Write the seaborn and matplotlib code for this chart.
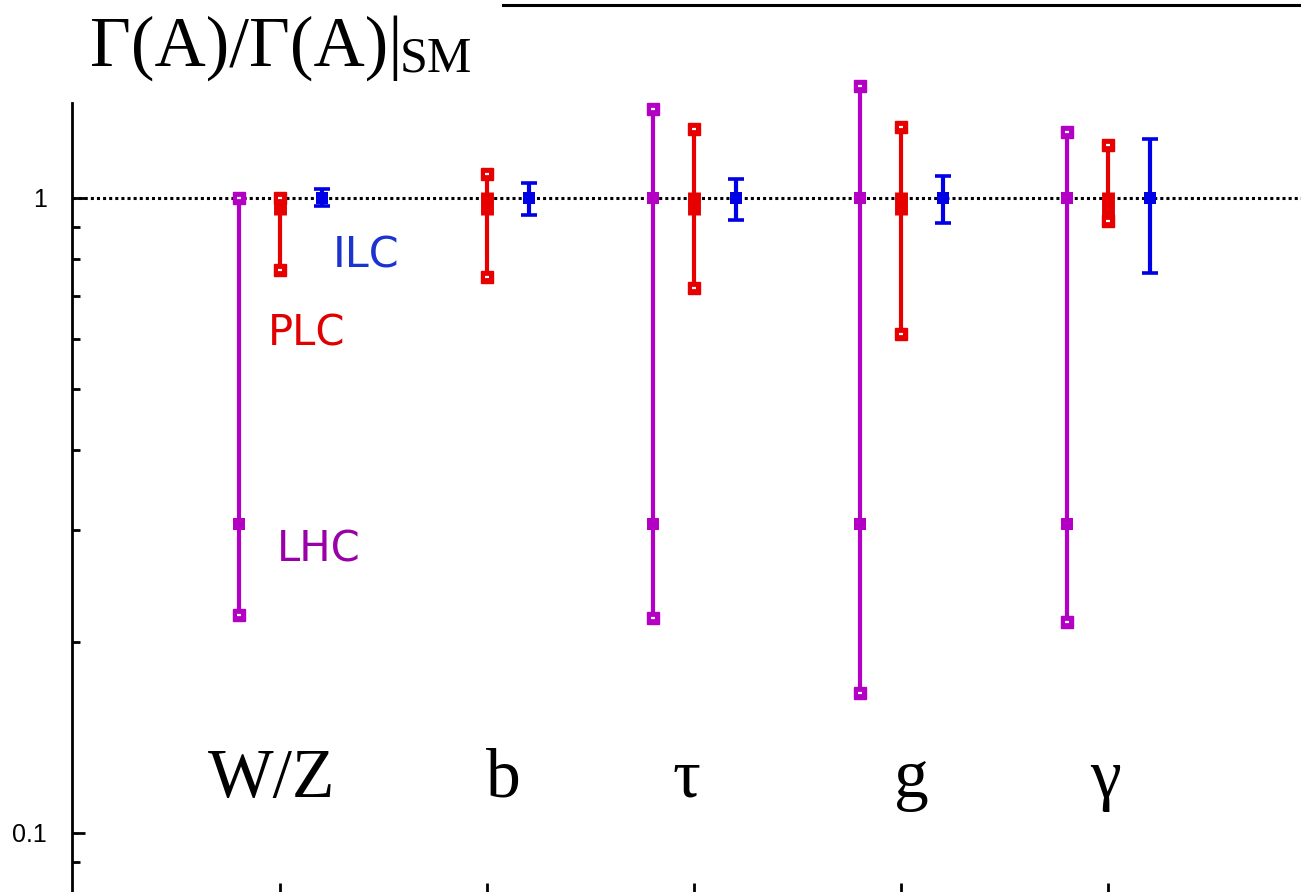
import numpy as np
import pandas as pd
import matplotlib
matplotlib.use("Agg")
import matplotlib.pyplot as plt
from matplotlib.ticker import FixedLocator, NullFormatter
import seaborn as sns

# Channels and the three colliders' coupling-ratio ranges
categories = ["W/Z", "b", "τ", "g", "γ"]
positions = [1, 2, 3, 4, 5]

nan = np.nan
lhc_hi = [1.00, nan, 1.38, 1.50, 1.27]
lhc_lo = [0.220, nan, 0.218, 0.166, 0.215]
lhc_sol_a = [1.00, nan, 1.00, 1.00, 1.00]
lhc_sol_b = [0.306, nan, 0.306, 0.306, 0.306]

plc_hi = [1.00, 1.09, 1.28, 1.29, 1.21]
plc_lo = [0.77, 0.75, 0.72, 0.61, 0.917]
plc_core_hi = [1.02, 1.02, 1.02, 1.02, 1.02]
plc_core_lo = [0.94, 0.94, 0.94, 0.94, 0.90]

ilc_hi = [1.03, 1.055, 1.07, 1.08, 1.235]
ilc_lo = [0.97, 0.94, 0.923, 0.913, 0.762]
ilc_central = [1.0, 1.0, 1.0, 1.0, 1.0]

minor_ticks = [0.09, 0.2, 0.3, 0.4, 0.5, 0.6, 0.7, 0.8, 0.9]

PURPLE = "#b400c4"
RED = "#e60000"
BLUE = "#0000e6"

sns.set_theme(style="ticks", rc={
    "axes.edgecolor": "black", "text.color": "black",
    "xtick.color": "black", "ytick.color": "black",
    "axes.labelcolor": "black",
})
plt.rcParams["font.family"] = ["Liberation Sans", "DejaVu Sans"]

fig = plt.figure(figsize=(13.01, 8.92), dpi=100)
ax = fig.add_axes([72 / 1301, -2 / 892, (1301 - 72) / 1301, (892 - 5 + 2) / 892])
ax.set_yscale("log")
ax.set_ylim(0.0801, 2.01)
ax.set_xlim(-0.005, 5.93)

# reference line at the SM value
ax.axhline(1.0, color="black", lw=2.2, ls=(0, (1, 1)), zorder=1)

x = np.array(positions, dtype=float)
df = pd.DataFrame({
    "x_lhc": x - 0.2, "x_plc": x, "x_ilc": x + 0.2,
    "lhc_hi": lhc_hi, "lhc_lo": lhc_lo,
    "lhc_a": lhc_sol_a, "lhc_b": lhc_sol_b,
    "plc_hi": plc_hi, "plc_lo": plc_lo,
    "plc_core_hi": plc_core_hi, "plc_core_lo": plc_core_lo,
    "ilc_hi": ilc_hi, "ilc_lo": ilc_lo, "ilc_c": ilc_central,
})

MS = 9.3  # marker size in points

def capped_ends(xcol, hicol, locol, color):
    for col in (hicol, locol):
        sub = df[[xcol, col]].dropna()
        ax.plot(sub[xcol], sub[col], ls="none", marker="s", ms=MS, mfc=color,
                mec=color, zorder=5)
        ax.plot(sub[xcol], sub[col], ls="none", marker="_", ms=3.5, mew=1.6,
                color="white", zorder=6)

# LHC
lhc = df.dropna(subset=["lhc_hi"])
ax.vlines(lhc["x_lhc"], lhc["lhc_lo"], lhc["lhc_hi"], color=PURPLE, lw=3, zorder=3)
for col in ("lhc_a", "lhc_b"):
    sns.scatterplot(data=lhc, x="x_lhc", y=col, marker="s", s=MS ** 2,
                    color=PURPLE, edgecolor=PURPLE, linewidth=0, ax=ax, zorder=4)
capped_ends("x_lhc", "lhc_hi", "lhc_lo", PURPLE)

# PLC
ax.vlines(df["x_plc"], df["plc_lo"], df["plc_hi"], color=RED, lw=3, zorder=3)
ax.vlines(df["x_plc"], df["plc_core_lo"], df["plc_core_hi"], color=RED, lw=9.3, zorder=4)
capped_ends("x_plc", "plc_hi", "plc_lo", RED)

# ILC
ax.errorbar(df["x_ilc"], df["ilc_c"],
            yerr=[df["ilc_c"] - df["ilc_lo"], df["ilc_hi"] - df["ilc_c"]],
            fmt="none", ecolor=BLUE, elinewidth=3, capsize=5.8, capthick=2.6, zorder=3)
sns.scatterplot(data=df, x="x_ilc", y="ilc_c", marker="s", s=MS ** 2,
                color=BLUE, edgecolor=BLUE, linewidth=0, ax=ax, zorder=4)

# collider labels
ax.text(1.256, 0.81, "ILC", color="#1c33d0", fontsize=31, va="center", ha="left",
        family=["DejaVu Sans"])
ax.text(0.942, 0.61, "PLC", color="#e00000", fontsize=30, va="center", ha="left",
        family=["DejaVu Sans"])
ax.text(0.986, 0.279, "LHC", color="#9a00a8", fontsize=30, va="center", ha="left",
        family=["DejaVu Sans"])

# channel labels
label_x = [0.96, 2.08, 2.96, 4.05, 4.985]
for lx, name in zip(label_x, categories):
    ax.text(lx, 0.114, name, fontsize=50, ha="center", va="baseline",
            family=["Liberation Serif", "DejaVu Serif"])

# axes styling
ax.set_xticks(positions)
ax.set_xticklabels([])
ax.set_yticks([0.1, 1])
ax.set_yticklabels(["0.1", "1"])
ax.yaxis.set_minor_locator(FixedLocator(minor_ticks))
ax.yaxis.set_minor_formatter(NullFormatter())
ax.tick_params(axis="y", which="major", direction="in", length=9, width=2,
               labelsize=18, pad=18)
ax.tick_params(axis="y", which="minor", direction="in", length=5.5, width=2)
ax.tick_params(axis="x", which="major", direction="in", length=8, width=2)
ax.tick_params(axis="x", which="minor", bottom=False)
ax.set_xlabel("")
ax.set_ylabel("")

ax.spines["right"].set_visible(False)
ax.spines["bottom"].set_color("#eeeeee")
ax.spines["bottom"].set_linewidth(1)
ax.spines["left"].set_linewidth(2)
ax.spines["left"].set_bounds(0.0801, 1.407)
ax.spines["top"].set_linewidth(2.2)
ax.spines["top"].set_bounds(2.077, 5.93)

# ratio title
fig.text(90 / 1301, 1 - 66 / 892, "Γ(A)/Γ(A)|", fontsize=51, ha="left",
         va="baseline", family=["Liberation Serif", "DejaVu Serif"])
fig.text(400 / 1301, 1 - 72 / 892, "SM", fontsize=36, ha="left",
         va="baseline", family=["Liberation Serif", "DejaVu Serif"])

fig.savefig("out.png", dpi=100)
